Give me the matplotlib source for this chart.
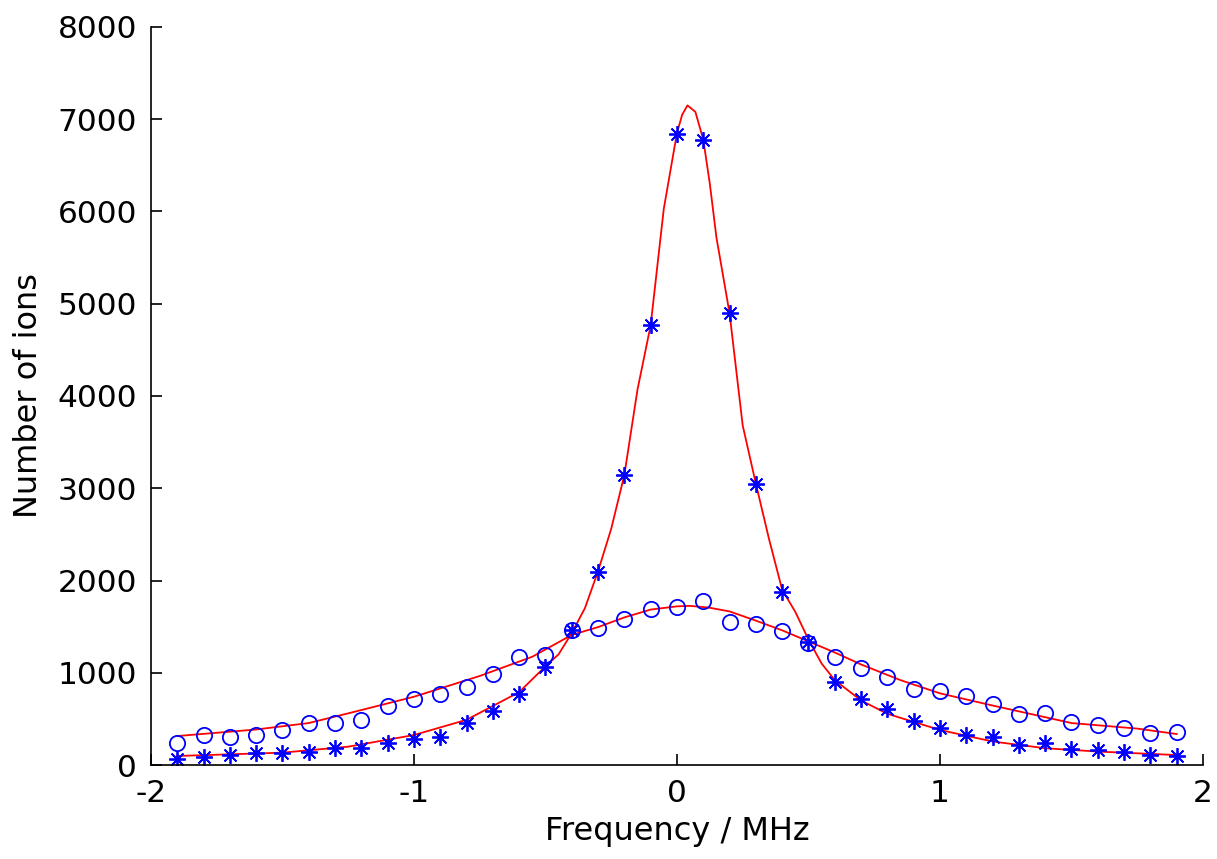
import matplotlib
matplotlib.use("Agg")
import matplotlib.pyplot as plt

plt.rcParams['font.family'] = ['DejaVu Sans']
plt.rcParams['axes.unicode_minus'] = False

# Measured data (frequency in MHz)
freq = [-1.9, -1.8, -1.7, -1.6, -1.5, -1.4, -1.3, -1.2, -1.1, -1.0,
        -0.9, -0.8, -0.7, -0.6, -0.5, -0.4, -0.3, -0.2, -0.1, 0.0,
        0.1, 0.2, 0.3, 0.4, 0.5, 0.6, 0.7, 0.8, 0.9, 1.0,
        1.1, 1.2, 1.3, 1.4, 1.5, 1.6, 1.7, 1.8, 1.9]

ions_narrow = [61, 83, 105, 127, 127, 145, 181, 181, 238, 285,
               307, 455, 589, 770, 1062, 1467, 2096, 3144, 4766, 6836,
               6775, 4896, 3050, 1872, 1337, 896, 712, 604, 474, 398,
               329, 307, 217, 242, 177, 163, 145, 105, 101]

ions_broad = [238, 328, 307, 328, 383, 455, 455, 491, 643, 712,
              770, 846, 990, 1171, 1189, 1469, 1489, 1579, 1691, 1709,
              1781, 1547, 1525, 1456, 1322, 1174, 1048, 954, 827, 806,
              748, 661, 549, 567, 470, 437, 401, 347, 361]

# Fitted curves
fit_narrow_x = [-1.9, -1.5, -1.25, -1.0, -0.8, -0.6, -0.5, -0.45, -0.4, -0.35,
                -0.3, -0.25, -0.2, -0.15, -0.1, -0.05, 0.0, 0.02, 0.04, 0.07,
                0.1, 0.125, 0.15, 0.2, 0.25, 0.3, 0.35, 0.4, 0.45, 0.5,
                0.55, 0.6, 0.7, 0.8, 1.0, 1.2, 1.4, 1.6, 1.9]
fit_narrow_y = [98, 134, 199, 325, 490, 790, 1070, 1200, 1430, 1700,
                2100, 2560, 3144, 4070, 4766, 6030, 6850, 7050, 7150, 7080,
                6780, 6300, 5720, 4896, 3680, 3050, 2450, 1900, 1660, 1360,
                1100, 920, 700, 555, 380, 255, 182, 146, 108]

fit_broad_x = [-1.9, -1.6, -1.4, -1.25, -1.0, -0.75, -0.55, -0.4, -0.3, -0.2,
               -0.1, 0.0, 0.05, 0.12, 0.2, 0.3, 0.4, 0.5, 0.6, 0.7,
               0.85, 1.0, 1.2, 1.5, 1.75, 1.9]
fit_broad_y = [314, 385, 455, 560, 740, 965, 1174, 1410, 1495, 1600,
               1685, 1720, 1725, 1707, 1665, 1565, 1460, 1340, 1220, 1090,
               920, 777, 645, 455, 395, 336]

x_ticks = [-2, -1, 0, 1, 2]
y_ticks = [0, 1000, 2000, 3000, 4000, 5000, 6000, 7000, 8000]

fig = plt.figure(figsize=(12.17, 8.59), dpi=100)
ax = fig.add_axes([0.124, 0.1094, 0.8645, 0.8592])

ax.plot(fit_narrow_x, fit_narrow_y, color='red', lw=1.3)
ax.plot(fit_broad_x, fit_broad_y, color='red', lw=1.3)
ax.plot(freq, ions_narrow, linestyle='none', marker=(8, 2, 0), markersize=12,
        markeredgewidth=1.3, color='blue')
ax.plot(freq, ions_broad, linestyle='none', marker='o', markersize=11,
        markerfacecolor='none', markeredgewidth=1.3, markeredgecolor='blue')

ax.set_xlim(-2, 2)
ax.set_ylim(0, 8000)
ax.set_xticks(x_ticks)
ax.set_yticks(y_ticks)
ax.set_xticklabels([str(v) for v in x_ticks])
ax.set_yticklabels([str(v) for v in y_ticks])
ax.spines['top'].set_visible(False)
ax.spines['right'].set_visible(False)
ax.spines['left'].set_linewidth(1.2)
ax.spines['bottom'].set_linewidth(1.2)
ax.tick_params(direction='in', length=8, width=1.2, labelsize=22.5)
ax.tick_params(axis='y', pad=10)
ax.tick_params(axis='x', pad=10)
ax.set_xlabel('Frequency / MHz', fontsize=23, labelpad=6)
ax.set_ylabel('Number of ions', fontsize=23, labelpad=10)

fig.savefig('out.png', dpi=100)
